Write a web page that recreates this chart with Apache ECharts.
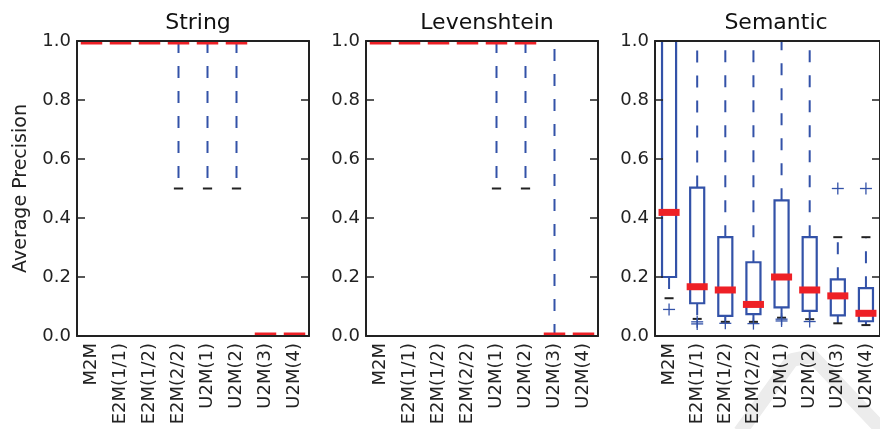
<!DOCTYPE html>
<html><head><meta charset="utf-8">
<script src="https://cdn.jsdelivr.net/npm/echarts@6/dist/echarts.min.js"></script>
<style>html,body{margin:0;padding:0;background:#fff}#c{width:880px;height:429px}</style>
</head><body><div id="c"></div>
<script>
const categories = ['M2M','E2M(1/1)','E2M(1/2)','E2M(2/2)','U2M(1)','U2M(2)','U2M(3)','U2M(4)'];
const panelTitles = ['String','Levenshtein','Semantic'];
const yAxisName = 'Average Precision';
// per category: [lowerWhisker, q1, median, q3, upperWhisker]
const stringStats = [[1,1,1,1,1],[1,1,1,1,1],[1,1,1,1,1],[0.5,1,1,1,1],[0.5,1,1,1,1],[0.5,1,1,1,1],[0,0,0,0,0],[0,0,0,0,0]];
const stringOutliers = [[],[],[],[],[],[],[],[]];
const levenshteinStats = [[1,1,1,1,1],[1,1,1,1,1],[1,1,1,1,1],[1,1,1,1,1],[0.5,1,1,1,1],[0.5,1,1,1,1],[0,0,0,0,1],[0,0,0,0,0]];
const levenshteinOutliers = [[],[],[],[],[],[],[],[]];
const semanticStats = [
  [0.128,0.2,0.419,1.0,1.0],
  [0.058,0.111,0.167,0.503,1.0],
  [0.048,0.068,0.156,0.335,1.0],
  [0.048,0.074,0.107,0.25,1.0],
  [0.062,0.097,0.2,0.46,1.0],
  [0.057,0.085,0.156,0.335,1.0],
  [0.043,0.07,0.136,0.192,0.335],
  [0.037,0.05,0.077,0.162,0.335]
];
const semanticOutliers = [[0.09],[0.048,0.041],[0.043],[0.042],[0.057,0.051],[0.049],[0.5],[0.5]];

const panels = [
  {title: panelTitles[0], stats: stringStats, outliers: stringOutliers},
  {title: panelTitles[1], stats: levenshteinStats, outliers: levenshteinOutliers},
  {title: panelTitles[2], stats: semanticStats, outliers: semanticOutliers}
];

const BLUE = '#3352a8', RED = '#ee2026', INK = '#222';
const FONT = 'DejaVu Sans';
const G_LEFT = [77, 366, 655], G_W = 232, G_TOP = 41, G_H = 295;

function boxRender(params, api) {
  const i = api.value(0);
  const lo = api.value(1), q1 = api.value(2), med = api.value(3), q3 = api.value(4), hi = api.value(5);
  const x = api.coord([i, 0])[0];
  const band = api.size([1, 0])[0];
  const bw = band * 0.5;
  const y = v => api.coord([i, v])[1];
  const ch = [];
  const dash = {stroke: BLUE, lineWidth: 2, lineDash: [12, 13]};
  if (lo < q1) ch.push({type: 'line', shape: {x1: x, y1: y(q1), x2: x, y2: y(lo)}, style: dash});
  if (hi > q3) ch.push({type: 'line', shape: {x1: x, y1: y(q3), x2: x, y2: y(hi)}, style: dash});
  const capW = bw / 2 + 2;
  [lo, hi].forEach(v => ch.push({type: 'line', shape: {x1: x - capW / 2, y1: y(v), x2: x + capW / 2, y2: y(v)}, style: {stroke: INK, lineWidth: 2}}));
  ch.push({type: 'rect', shape: {x: x - bw / 2, y: y(q3), width: bw, height: y(q1) - y(q3)}, style: {fill: 'none', stroke: BLUE, lineWidth: 2.2}});
  ch.push({type: 'line', shape: {x1: x - bw / 2 - 3.5, y1: y(med), x2: x + bw / 2 + 3.5, y2: y(med)}, style: {stroke: RED, lineWidth: 7}});
  return {type: 'group', children: ch};
}
function plusRender(params, api) {
  const p = api.coord([api.value(0), api.value(1)]);
  const s = 6;
  return {type: 'group', children: [
    {type: 'line', shape: {x1: p[0] - s, y1: p[1], x2: p[0] + s, y2: p[1]}, style: {stroke: BLUE, lineWidth: 1.3}},
    {type: 'line', shape: {x1: p[0], y1: p[1] - s, x2: p[0], y2: p[1] + s}, style: {stroke: BLUE, lineWidth: 1.3}}
  ]};
}

const option = {animation: false, title: [], grid: [], xAxis: [], yAxis: [], series: [], graphic: []};
panels.forEach((p, k) => {
  option.title.push({text: p.title, left: G_LEFT[k] + G_W / 2, textAlign: 'center', top: 7,
    textStyle: {fontFamily: FONT, fontSize: 22, fontWeight: 'normal', color: '#111'}});
  option.grid.push({left: G_LEFT[k], top: G_TOP, width: G_W, height: G_H, containLabel: false});
  const lineStyle = {color: INK, width: 2};
  const tick = {inside: true, alignWithLabel: true, length: 7, lineStyle: {color: INK, width: 1.5}};
  option.xAxis.push({type: 'category', gridIndex: k, data: categories, position: 'bottom', z: 5,
    axisLine: {onZero: false, lineStyle}, axisTick: tick,
    axisLabel: {rotate: 90, margin: 7, interval: 0, fontFamily: FONT, fontSize: 18, color: INK}, splitLine: {show: false}});
  option.xAxis.push({type: 'category', gridIndex: k, data: categories, position: 'top', z: 5,
    axisLine: {onZero: false, lineStyle}, axisTick: tick,
    axisLabel: {show: false}, splitLine: {show: false}});
  const yBase = {type: 'value', gridIndex: k, min: 0, max: 1, interval: 0.2, z: 5, splitLine: {show: false}};
  option.yAxis.push(Object.assign({}, yBase, {position: 'left',
    name: k === 0 ? yAxisName : '', nameLocation: 'middle', nameGap: 46,
    nameTextStyle: {fontFamily: FONT, fontSize: 19, color: INK},
    axisLine: {show: true, onZero: false, lineStyle}, axisTick: {show: true, inside: true, length: 8, lineStyle: {color: INK, width: 1.5}},
    axisLabel: {margin: 6, fontFamily: FONT, fontSize: 18, color: INK, formatter: v => v.toFixed(1)}}));
  option.yAxis.push(Object.assign({}, yBase, {position: 'right',
    axisLine: {show: true, onZero: false, lineStyle}, axisTick: {show: true, inside: true, length: 8, lineStyle: {color: INK, width: 1.5}},
    axisLabel: {show: false}}));
  option.series.push({type: 'custom', xAxisIndex: 2 * k, yAxisIndex: 2 * k, clip: true, renderItem: boxRender,
    data: p.stats.map((s, i) => [i].concat(s))});
  const out = [];
  p.outliers.forEach((arr, i) => arr.forEach(v => out.push([i, v])));
  option.series.push({type: 'custom', xAxisIndex: 2 * k, yAxisIndex: 2 * k, clip: true, renderItem: plusRender, data: out});
});
option.graphic.push({type: 'polyline', z: -10, silent: true,
  shape: {points: [[740, 432], [792, 360], [812, 356], [884, 432]]},
  style: {stroke: '#ececec', lineWidth: 14, fill: 'none', lineJoin: 'round'}});

const chart = echarts.init(document.getElementById('c'), null, {renderer: 'canvas'});
chart.setOption(option);
</script></body></html>
